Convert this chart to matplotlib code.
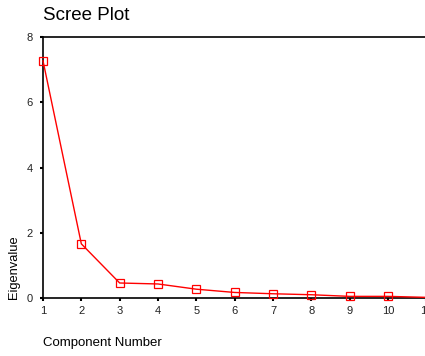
import matplotlib
matplotlib.use("Agg")
import matplotlib.pyplot as plt

components = [1, 2, 3, 4, 5, 6, 7, 8, 9, 10, 11]
eigenvalues = [7.27, 1.66, 0.46, 0.43, 0.27, 0.17, 0.13, 0.10, 0.05, 0.05, 0.02]
xticks = [1, 2, 3, 4, 5, 6, 7, 8, 9, 10, 11]
yticks = [0, 2, 4, 6, 8]

plt.rcParams['font.family'] = ['Liberation Sans', 'DejaVu Sans']

fig = plt.figure(figsize=(4.25, 3.56), dpi=100)
ax = fig.add_axes([43/425, 1-298/356, (10*38.33)/425, (298-37)/356])
ax.plot(components, eigenvalues, color='#ff0000', lw=1.0, clip_on=False, zorder=3)
ax.plot(components[:-1], eigenvalues[:-1], linestyle='none', marker='s',
        markersize=5.5, markerfacecolor='none', markeredgecolor='#ff0000',
        markeredgewidth=0.9, clip_on=False, zorder=4)
ax.set_xlim(1, 11)
ax.set_ylim(0, 8)
ax.set_xticks(xticks)
ax.set_yticks(yticks)
ax.tick_params(direction='out', length=2.5, width=1.5, labelsize=8, pad=3,
               colors='black', labelcolor='#222222')
ax.tick_params(axis='y', pad=5)
for s in ['left', 'bottom', 'top']:
    ax.spines[s].set_linewidth(1.2)
    ax.spines[s].set_color('black')
ax.spines['right'].set_visible(False)

fig.text(43/425, 1-15/356, 'Scree Plot', fontsize=13.5, ha='left', va='center')
fig.text(14/425, 1-299/356, 'Eigenvalue', fontsize=9.3, rotation=90,
         ha='center', va='bottom')
fig.text(43/425, 1-343/356, 'Component Number', fontsize=9.5, ha='left',
         va='center')

fig.savefig('out.png', dpi=100)
